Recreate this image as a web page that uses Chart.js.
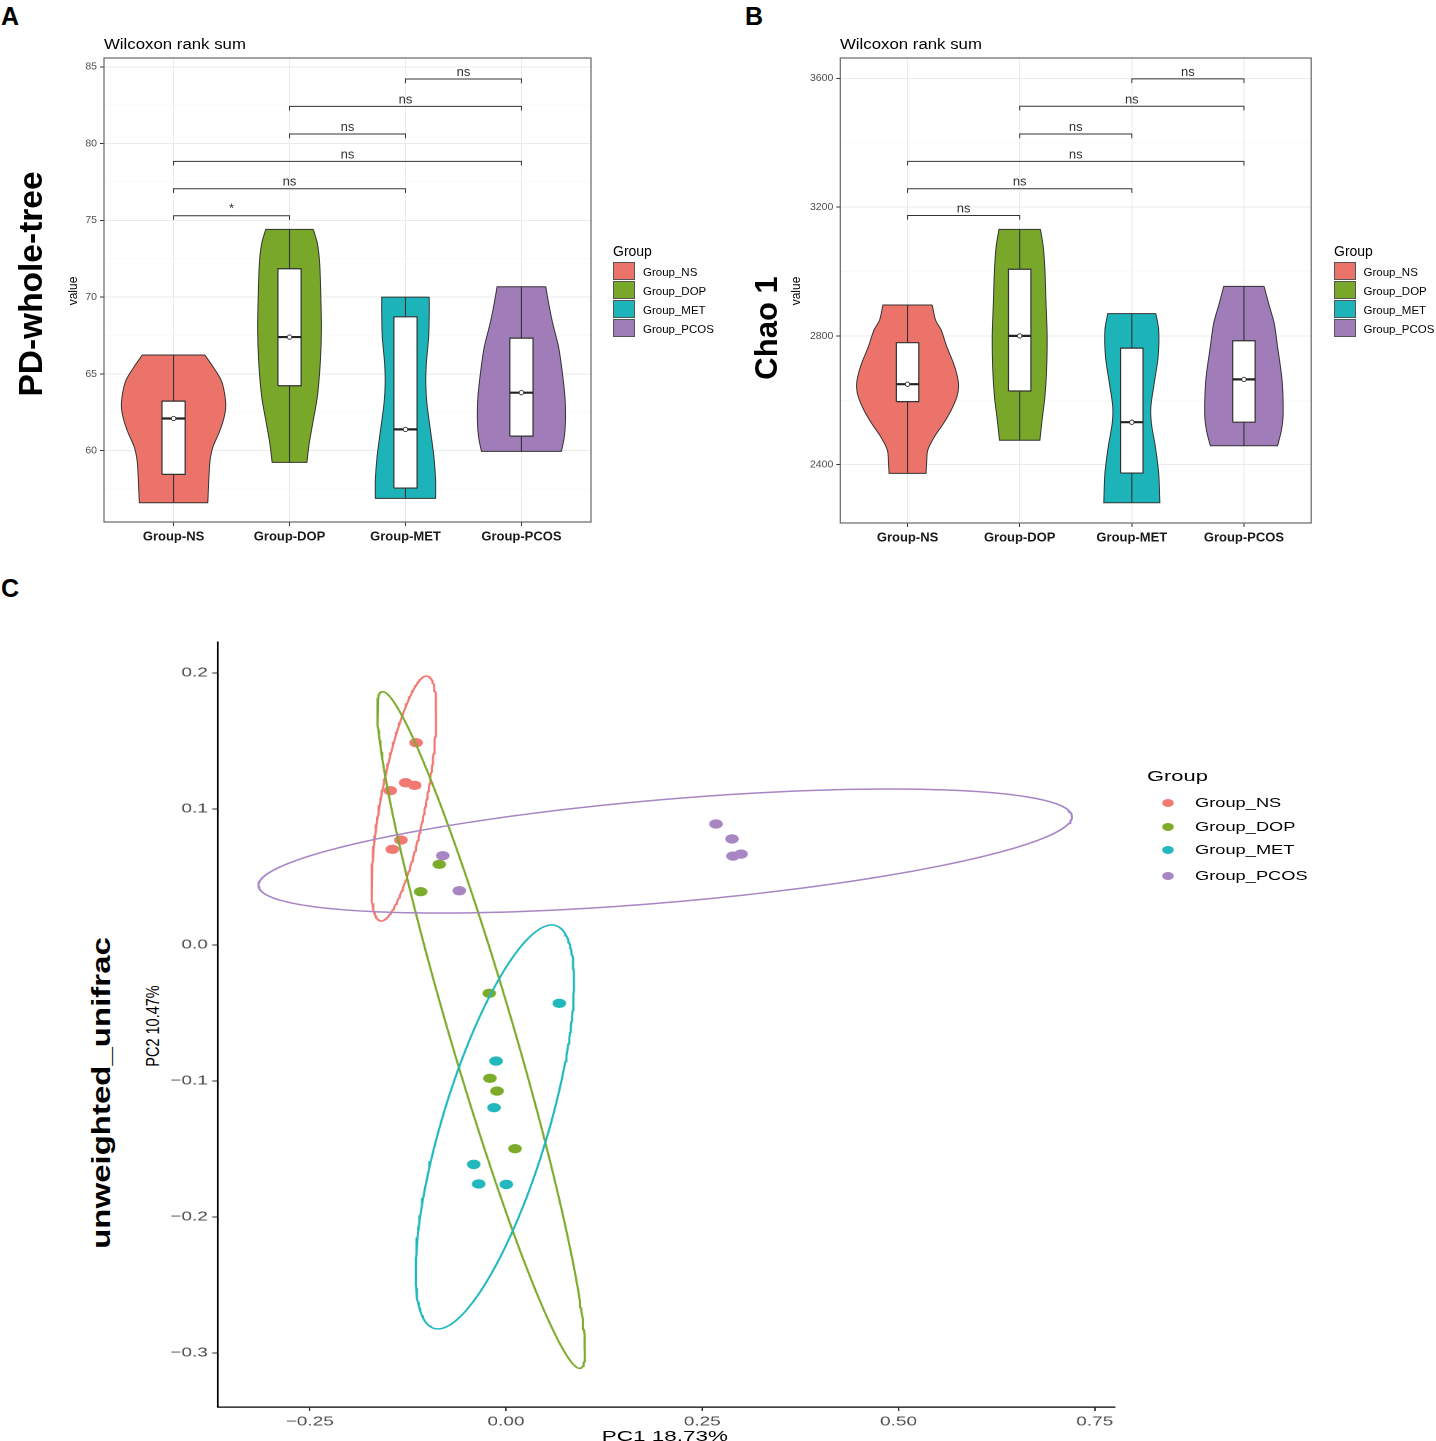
<!DOCTYPE html>
<html><head><meta charset="utf-8">
<script src="https://cdn.jsdelivr.net/npm/chart.js@4.4.1/dist/chart.umd.min.js"></script>
<style>
html,body{margin:0;padding:0;background:#fff;}
body{position:relative;width:1436px;height:1441px;overflow:hidden;font-family:"Liberation Sans",Arial,Helvetica,sans-serif;color:#000;}
canvas{position:absolute;}
.t{position:absolute;white-space:nowrap;line-height:1;}
.letter{font-weight:bold;font-size:25px;}
.sw{position:absolute;width:22px;height:18px;box-sizing:border-box;border:1px solid #555;}
.dot{position:absolute;width:8px;height:8px;border-radius:50%;}
</style></head><body>

<div class="t letter" style="left:1px;top:4px">A</div>
<div class="t letter" style="left:745px;top:4px">B</div>
<div class="t letter" style="left:1px;top:576px">C</div>

<canvas id="cA" width="740" height="560" style="left:0;top:0"></canvas>
<canvas id="cB" width="696" height="560" style="left:740px;top:0"></canvas>

<div class="t" style="left:104px;top:36.5px;font-size:14px;transform:scaleX(1.2);transform-origin:0 0">Wilcoxon rank sum</div>
<div class="t" style="left:840px;top:36.5px;font-size:14px;transform:scaleX(1.2);transform-origin:0 0">Wilcoxon rank sum</div>

<div class="t" style="left:31px;top:284px;font-size:33.5px;font-weight:bold;transform:translate(-50%,-50%) rotate(-90deg)">PD-whole-tree</div>
<div class="t" style="left:73px;top:291px;font-size:12px;transform:translate(-50%,-50%) rotate(-90deg)">value</div>
<div class="t" style="left:766px;top:328px;font-size:31px;font-weight:bold;transform:translate(-50%,-50%) rotate(-90deg)">Chao 1</div>
<div class="t" style="left:796px;top:291px;font-size:12px;transform:translate(-50%,-50%) rotate(-90deg)">value</div>

<div id="legA"></div>
<div id="legB"></div>

<div class="t" style="left:101px;top:1092.5px;font-size:33px;font-weight:bold;transform:translate(-50%,-50%) scaleX(0.76) rotate(-90deg)">unweighted_unifrac</div>
<div class="t" style="left:153px;top:1026px;font-size:14.5px;transform:translate(-50%,-50%) scaleX(1.25) rotate(-90deg)">PC2 10.47%</div>

<div id="cwrap" style="position:absolute;left:0;top:600px;width:984px;height:841px;transform:scaleX(1.46);transform-origin:0 0;">
  <canvas id="cC" width="984" height="841" style="left:0;top:0"></canvas>
  <div id="legC"></div>
  <div class="t" style="left:455.4px;top:828px;font-size:15.4px;transform:translateX(-50%)">PC1 18.73%</div>
</div>

<script>
// ===================== DATA =====================
const categories = ['Group-NS', 'Group-DOP', 'Group-MET', 'Group-PCOS'];
const groupNames = ['Group_NS', 'Group_DOP', 'Group_MET', 'Group_PCOS'];
const bracketPairs = [[1, 2], [1, 3], [1, 4], [2, 3], [2, 4], [3, 4]];

// Panel A: PD-whole-tree violin outlines (value, half-width in category units)
const pdViolinValues = [
  [66.23, 65.47, 64.6, 63.73, 62.86, 62.0, 61.13, 60.26, 59.39, 58.3, 57.44, 56.61],
  [74.41, 73.5, 72.2, 70.03, 67.86, 65.69, 63.52, 61.78, 60.48, 59.24],
  [70.0, 68.94, 67.42, 65.69, 64.38, 63.08, 61.35, 59.61, 58.1, 56.9],
  [70.68, 69.59, 68.29, 66.77, 65.25, 63.52, 62.0, 60.91, 59.96]
];
const pdViolinHalfWidths = [
  [0.27, 0.34, 0.41, 0.44, 0.45, 0.43, 0.39, 0.34, 0.315, 0.305, 0.30, 0.295],
  [0.205, 0.24, 0.26, 0.27, 0.275, 0.265, 0.24, 0.2, 0.17, 0.15],
  [0.205, 0.205, 0.2, 0.18, 0.175, 0.185, 0.215, 0.245, 0.26, 0.26],
  [0.21, 0.235, 0.27, 0.32, 0.35, 0.375, 0.38, 0.37, 0.345]
];
const pdBoxQ1 = [58.46, 64.23, 57.57, 60.95];
const pdBoxMedian = [62.1, 67.4, 61.39, 63.78];
const pdBoxQ3 = [63.23, 71.85, 68.72, 67.33];
const pdMajorTicks = [60, 65, 70, 75, 80, 85];
const pdMinorTicks = [57.5, 62.5, 67.5, 72.5, 77.5, 82.5];
const pdBracketHeights = [75.3, 77.06, 78.84, 80.62, 82.42, 84.2];
const pdBracketLabels = ['*', 'ns', 'ns', 'ns', 'ns', 'ns'];

// Panel B: Chao 1
const chaoViolinValues = [
  [2896, 2849, 2818, 2766, 2715, 2673, 2642, 2611, 2570, 2528, 2487, 2445, 2404, 2373],
  [3131, 3077, 3005, 2901, 2797, 2694, 2611, 2539, 2476],
  [2869, 2818, 2736, 2653, 2580, 2528, 2456, 2373, 2282],
  [2954, 2901, 2839, 2766, 2663, 2559, 2508, 2459]
];
const chaoViolinHalfWidths = [
  [0.22, 0.25, 0.30, 0.35, 0.41, 0.445, 0.455, 0.44, 0.39, 0.32, 0.24, 0.18, 0.17, 0.165],
  [0.185, 0.21, 0.225, 0.235, 0.245, 0.24, 0.225, 0.2, 0.18],
  [0.215, 0.24, 0.235, 0.2, 0.17, 0.175, 0.21, 0.24, 0.25],
  [0.18, 0.22, 0.27, 0.30, 0.34, 0.35, 0.335, 0.30]
];
const chaoBoxQ1 = [2596, 2629, 2374, 2532];
const chaoBoxMedian = [2650, 2800, 2532, 2665];
const chaoBoxQ3 = [2779, 3007, 2762, 2785];
const chaoMajorTicks = [2400, 2800, 3200, 3600];
const chaoMinorTicks = [2600, 3000, 3400];
const chaoBracketHeights = [3174, 3257, 3342, 3427, 3513, 3598];
const chaoBracketLabels = ['ns', 'ns', 'ns', 'ns', 'ns', 'ns'];

// Panel C: PCoA (unweighted UniFrac)
const pc1Values = [
  [-0.1146, -0.1278, -0.1163, -0.1474, -0.1338, -0.1448],
  [-0.085, -0.1087, -0.0213, -0.0204, -0.0115, 0.0115],
  [0.0679, -0.0127, -0.0153, -0.0411, -0.0348, 0.0004],
  [-0.0806, -0.0595, 0.2675, 0.2879, 0.2892, 0.2994]
];
const pc2Values = [
  [0.1488, 0.1193, 0.1174, 0.1135, 0.0772, 0.0704],
  [0.0593, 0.0392, -0.0355, -0.098, -0.1074, -0.1498],
  [-0.0429, -0.0853, -0.1196, -0.1613, -0.1757, -0.176],
  [0.0657, 0.0399, 0.089, 0.078, 0.0654, 0.0669]
];
// 95% ellipses: centre, half-width (PC1), half-height (PC2), PC1 offset of topmost point
const ellipseCenterPC1 = [-0.1301, -0.0317, -0.0143, 0.2028];
const ellipseCenterPC2 = [0.1077, -0.0625, -0.1338, 0.0691];
const ellipseHalfWidth = [0.0413, 0.1324, 0.1009, 0.5182];
const ellipseHalfHeight = [0.0901, 0.2488, 0.1485, 0.0456];
const ellipseTopShift = [0.0291, -0.1254, 0.0725, 0.2869];
const pc1Ticks = [-0.25, 0, 0.25, 0.5, 0.75];
const pc2Ticks = [-0.3, -0.2, -0.1, 0, 0.1, 0.2];

// ===================== STYLE =====================
const FONT = '"Liberation Sans", Arial, Helvetica, sans-serif';
const violinColors = ['#EB7369', '#78A72A', '#1DB4B9', '#A07DB9'];
const pointColors = ['#F07A72', '#7DAC2D', '#22B8BE', '#A886C4'];
Chart.defaults.font.family = FONT;
Chart.defaults.animation = false;

const framePlugin = {
  id: 'frame',
  afterDraw(c, a, o) {
    if (!o || !o.color) return;
    const { ctx, chartArea: r } = c;
    ctx.save(); ctx.strokeStyle = o.color; ctx.lineWidth = o.width;
    ctx.strokeRect(r.left, r.top, r.right - r.left, r.bottom - r.top);
    ctx.restore();
  }
};
const bracketTextPlugin = {
  id: 'bracketText',
  afterDatasetsDraw(c, a, o) {
    if (!o || !o.heights) return;
    const { ctx } = c, xs = c.scales.x, ys = c.scales.y;
    ctx.save(); ctx.fillStyle = '#333'; ctx.font = '13px ' + FONT;
    ctx.textAlign = 'center'; ctx.textBaseline = 'alphabetic';
    o.heights.forEach((h, i) => {
      const [p, q] = o.pairs[i];
      ctx.fillText(o.labels[i], xs.getPixelForValue((p + q) / 2), ys.getPixelForValue(h) - 3);
    });
    ctx.restore();
  }
};

function lineDs(o) {
  return Object.assign({ pointRadius: 0, fill: false, tension: 0, borderColor: '#333', borderWidth: 1, borderJoinStyle: 'miter' }, o);
}

function buildViolinChart(id, vals, hws, q1, med, q3, major, minor, ymin, ymax, bh, bl, pad, yW, xH) {
  const tl = (ymax - ymin) * 0.009;
  const layers = [];
  vals.forEach((v, g) => {
    const k = g + 1, hw = hws[g], n = v.length;
    const right = v.map((y, i) => ({ x: k + hw[i], y }));
    const left = v.map((y, i) => ({ x: k - hw[i], y })).reverse();
    const outline = [right[0], ...right, right[n - 1], left[0], ...left, left[n - 1], right[0]];
    layers.push(lineDs({ data: outline, fill: 'shape', backgroundColor: violinColors[g], borderColor: '#333', borderWidth: 1, tension: 0.3 }));
    layers.push(lineDs({ data: [{ x: k, y: v[0] }, { x: k, y: v[n - 1] }], borderWidth: 1.1 }));
    layers.push(lineDs({ data: [{ x: k - 0.1, y: q1[g] }, { x: k + 0.1, y: q1[g] }, { x: k + 0.1, y: q3[g] }, { x: k - 0.1, y: q3[g] }, { x: k - 0.1, y: q1[g] }],
      fill: 'shape', backgroundColor: '#fff', borderWidth: 1.2 }));
    layers.push(lineDs({ data: [{ x: k - 0.1, y: med[g] }, { x: k + 0.1, y: med[g] }], borderColor: '#222', borderWidth: 2.2 }));
    layers.push(lineDs({ data: [{ x: k, y: med[g] }], showLine: false, pointRadius: 2.2, pointBackgroundColor: '#fff', pointBorderColor: '#333', pointBorderWidth: 0.9 }));
  });
  bh.forEach((h, i) => {
    const [p, q] = bracketPairs[i];
    layers.push(lineDs({ data: [{ x: p, y: h - tl }, { x: p, y: h }, { x: q, y: h }, { x: q, y: h - tl }], borderColor: '#333', borderWidth: 1 }));
  });
  const isMajor = v => major.includes(v);
  new Chart(document.getElementById(id), {
    type: 'line',
    data: { datasets: layers.slice().reverse() },
    plugins: [framePlugin, bracketTextPlugin],
    options: {
      responsive: false, animation: false, events: [], devicePixelRatio: 2,
      layout: { padding: pad },
      plugins: { legend: { display: false }, tooltip: { enabled: false },
        frame: { color: '#666', width: 1.2 },
        bracketText: { heights: bh, labels: bl, pairs: bracketPairs } },
      scales: {
        x: { type: 'linear', min: 0.4, max: 4.6,
          afterBuildTicks: s => { s.ticks = [1, 2, 3, 4].map(v => ({ value: v })); },
          afterFit: s => { s.height = xH; },
          ticks: { autoSkip: false, maxRotation: 0, padding: 3, color: '#1A1A1A', font: { size: 13, weight: 'bold' },
            callback: v => categories[Math.round(v) - 1] },
          grid: { color: '#EBEBEB', lineWidth: 1, tickLength: 4, tickColor: '#333' },
          border: { display: false } },
        y: { type: 'linear', min: ymin, max: ymax,
          afterBuildTicks: s => { s.ticks = [...minor, ...major].sort((a, b) => a - b).map(v => ({ value: v })); },
          afterFit: s => { s.width = yW; },
          ticks: { autoSkip: false, padding: 3, color: '#4D4D4D', font: { size: 10.5 },
            callback: v => isMajor(v) ? String(v) : '' },
          grid: { color: c => isMajor(c.tick.value) ? '#EBEBEB' : '#F5F5F5',
            lineWidth: c => isMajor(c.tick.value) ? 1 : 0.6,
            tickLength: 4, tickColor: c => isMajor(c.tick.value) ? '#333' : 'rgba(0,0,0,0)' },
          border: { display: false } }
      }
    }
  });
}

buildViolinChart('cA', pdViolinValues, pdViolinHalfWidths, pdBoxQ1, pdBoxMedian, pdBoxQ3,
  pdMajorTicks, pdMinorTicks, 55.36, 85.57, pdBracketHeights, pdBracketLabels,
  { left: 0, top: 58, right: 149, bottom: 0 }, 104, 38);
buildViolinChart('cB', chaoViolinValues, chaoViolinHalfWidths, chaoBoxQ1, chaoBoxMedian, chaoBoxQ3,
  chaoMajorTicks, chaoMinorTicks, 2219, 3663, chaoBracketHeights, chaoBracketLabels,
  { left: 0, top: 58, right: 124.8, bottom: 0 }, 100.3, 37);

// Legends A & B
function boxLegend(el, left, labelLeft) {
  let h = `<div class="t" style="left:${left}px;top:244px;font-size:14px">Group</div>`;
  groupNames.forEach((g, i) => {
    h += `<div class="sw" style="left:${left}px;top:${262 + 19 * i}px;background:${violinColors[i]}"></div>`;
    h += `<div class="t" style="left:${labelLeft}px;top:${266.7 + 19 * i}px;font-size:11.5px">${g}</div>`;
  });
  document.getElementById(el).innerHTML = h;
}
boxLegend('legA', 613, 643);
boxLegend('legB', 1334, 1363.5);

// Panel C
function ellipsePoints(g) {
  const cx = ellipseCenterPC1[g], cy = ellipseCenterPC2[g];
  const W = ellipseHalfWidth[g], H = ellipseHalfHeight[g], a = ellipseTopShift[g];
  const l21 = a * H / W, l22 = Math.sqrt(Math.max(H * H - l21 * l21, 0));
  const pts = [];
  for (let i = 0; i <= 200; i++) {
    const t = 2 * Math.PI * i / 200;
    pts.push({ x: cx + W * Math.cos(t), y: cy + l21 * Math.cos(t) + l22 * Math.sin(t) });
  }
  return pts;
}
const minusFmt = (v, d) => (Math.abs(v) < 1e-9 ? (0).toFixed(d) : (v < 0 ? '\u2212' : '') + Math.abs(v).toFixed(d));
const cLayers = [];
groupNames.forEach((g, i) => {
  cLayers.push(lineDs({ data: pc1Values[i].map((x, j) => ({ x, y: pc2Values[i][j] })), showLine: false,
    pointRadius: 4.7, pointBackgroundColor: pointColors[i], pointBorderWidth: 0 }));
});
groupNames.forEach((g, i) => {
  cLayers.push(lineDs({ data: ellipsePoints(i), borderColor: pointColors[i], borderWidth: 1.5, borderJoinStyle: 'round' }));
});
new Chart(document.getElementById('cC'), {
  type: 'line',
  data: { datasets: cLayers.slice().reverse() },
  options: {
    responsive: false, animation: false, events: [], devicePixelRatio: 2,
    layout: { padding: { left: 0, top: 42, right: 220.3, bottom: 0 } },
    plugins: { legend: { display: false }, tooltip: { enabled: false } },
    scales: {
      x: { type: 'linear', min: -0.3669, max: 0.7758,
        afterBuildTicks: s => { s.ticks = pc1Ticks.map(v => ({ value: v })); },
        afterFit: s => { s.height = 34; },
        ticks: { autoSkip: false, maxRotation: 0, padding: 3, color: '#4D4D4D', font: { size: 13 }, callback: v => minusFmt(v, 2) },
        grid: { drawOnChartArea: false, tickLength: 4, tickColor: '#333' },
        border: { display: true, color: '#000', width: 1.3 } },
      y: { type: 'linear', min: -0.3397, max: 0.2228,
        afterBuildTicks: s => { s.ticks = pc2Ticks.map(v => ({ value: v })); },
        afterFit: s => { s.width = 149.3; },
        ticks: { autoSkip: false, padding: 3, color: '#4D4D4D', font: { size: 13 }, callback: v => minusFmt(v, 1) },
        grid: { drawOnChartArea: false, tickLength: 4, tickColor: '#333' },
        border: { display: true, color: '#000', width: 1.3 } }
    }
  }
});
(function () {
  let h = `<div class="t" style="left:785.6px;top:168px;font-size:15px">Group</div>`;
  const ys = [202.7, 226.7, 250.3, 275.7];
  groupNames.forEach((g, i) => {
    h += `<div class="dot" style="left:${799.5 - 4}px;top:${ys[i] - 4}px;background:${pointColors[i]}"></div>`;
    h += `<div class="t" style="left:818.5px;top:${ys[i] - 6.1}px;font-size:12.5px">${g}</div>`;
  });
  document.getElementById('legC').innerHTML = h;
})();
</script>
</body></html>
